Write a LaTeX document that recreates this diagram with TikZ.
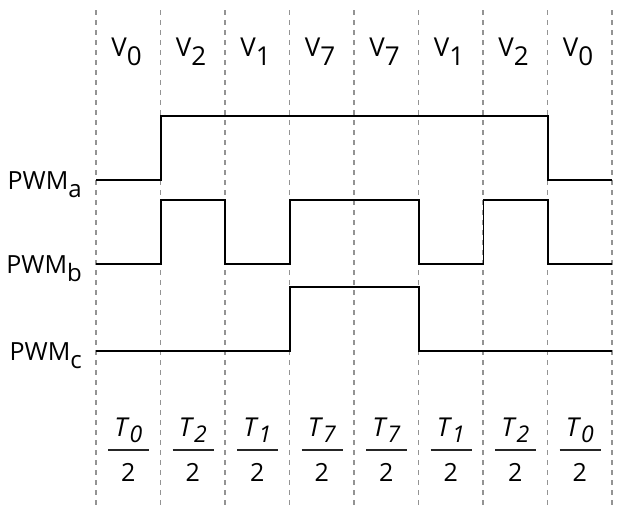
\documentclass[tikz,border=0pt]{standalone}
\usepackage{fontspec}
\setmainfont{Open Sans}
\usetikzlibrary{calc}
\newcommand{\vsub}[1]{\raisebox{-9pt}{#1}}
\newcommand{\psub}[1]{\raisebox{-8pt}{\fontsize{24}{24}\selectfont #1}}
\newcommand{\tsub}[1]{\textit{T}\raisebox{-6pt}{\fontsize{23}{23}\selectfont\itshape #1}}
\begin{document}
\begin{tikzpicture}[x=1pt,y=-1pt,
  grid/.style={draw=gray!85,line width=1.6pt,dash pattern=on 5pt off 5pt},
  sig/.style={draw=black,line width=1.9pt},
  vlab/.style={font=\fontsize{26}{26}\selectfont,inner sep=0pt},
  lab/.style={font=\fontsize{25}{25}\selectfont,inner sep=0pt},
  tlab/.style={font=\fontsize{26}{26}\selectfont,inner sep=0pt},
  fracline/.style={draw=black!85,line width=1.8pt}]
\useasboundingbox (0,0) rectangle (620,512);
% dashed grid lines
\foreach \i in {0,...,8} {
  \coordinate (gt\i) at ({96+64.5*\i},10);
  \coordinate (gb\i) at ({96+64.5*\i},506);
  \draw[grid] (gt\i) -- (gb\i);
}
% vector labels and durations
\foreach \v [count=\k from 0] in {0,2,1,7,7,1,2,0} {
  \node[vlab,anchor=base] (v\k) at ({126.5+64.5*\k},56) {V\vsub{\v}};
  \node[tlab,anchor=base] (tn\k) at ({128.25+64.5*\k},436) {\tsub{\v}};
  \coordinate (fl\k) at ({108+64.5*\k},450);
  \coordinate (fr\k) at ({149+64.5*\k},450);
  \draw[fracline] (fl\k) -- (fr\k);
  \node[lab,anchor=base] (td\k) at ({128.25+64.5*\k},481) {2};
}
% signal labels
\node[lab,anchor=base east] (la) at (82,189) {PWM\psub{a}};
\node[lab,anchor=base east] (lb) at (82,273) {PWM\psub{b}};
\node[lab,anchor=base east] (lc) at (82,360) {PWM\psub{c}};
% signals
\coordinate (a0) at (96,180);
\coordinate (a1) at (612,180);
\draw[sig] (a0) -| (161,116) -| (548,180) -- (a1);
\coordinate (b0) at (96,264);
\coordinate (b1) at (612,264);
\draw[sig] (b0) -| (161,200) -| (225,264) -| (290,200) -| (419,264) -| (483.5,200) -| (548,264) -- (b1);
\coordinate (c0) at (96,351);
\coordinate (c1) at (612,351);
\draw[sig] (c0) -| (290,287) -| (419,351) -- (c1);
\end{tikzpicture}
\end{document}
